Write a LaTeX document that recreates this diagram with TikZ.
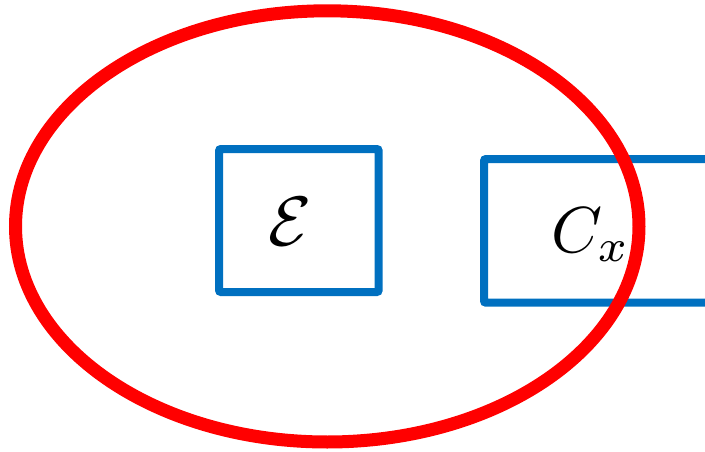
\documentclass[tikz,border=0pt]{standalone}
\usepackage{graphicx}
\definecolor{boxblue}{RGB}{0,112,192}
\definecolor{ringred}{RGB}{255,0,0}
\tikzset{
  bluebox/.style={draw=boxblue, line width=8pt, rounded corners=2pt, inner sep=0pt},
  ring/.style={draw=ringred, line width=13pt},
  bigmath/.style={inner sep=0pt}
}
\begin{document}
\begin{tikzpicture}[x=1pt, y=-1pt]
  \useasboundingbox (0,0) rectangle (705,452);
  \clip (0,0) rectangle (705,452);
  % boxes
  \node[bluebox, minimum width=159.7pt, minimum height=143pt] (boxE) at (298.85,220.5) {};
  \node[bluebox, minimum width=227pt, minimum height=143.7pt, anchor=north west] (boxC) at (480,155) {};
  % ellipse
  \draw[ring] (327.25,226.4) ellipse [x radius=311.75, y radius=215.6];
  % labels
  \node[bigmath, anchor=base] (labE) at (290,245) {\scalebox{7}{$\mathcal{E}$}};
  \node[bigmath, anchor=base west] (labC) at (551,252) {\scalebox{6.5}{$C_x$}};
\end{tikzpicture}
\end{document}
